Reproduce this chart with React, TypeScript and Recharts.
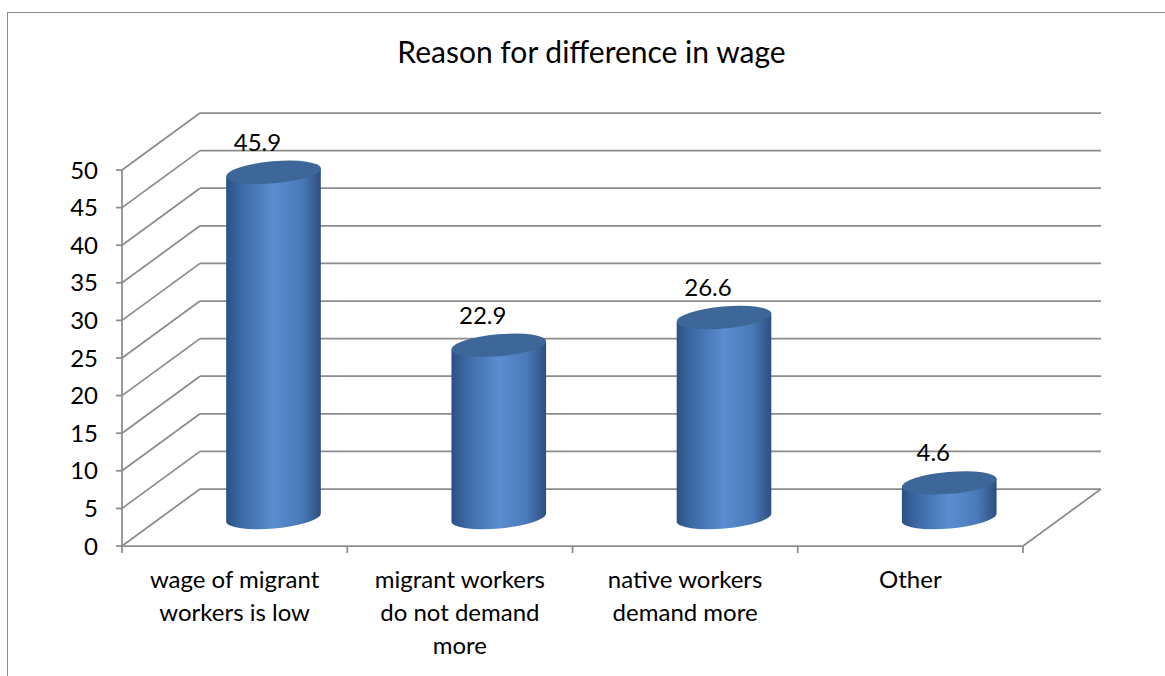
import { BarChart, Bar, XAxis, YAxis, CartesianGrid, LabelList } from 'recharts';

const title = 'Reason for difference in wage';
const categories = [
  'wage of migrant workers is low',
  'migrant workers do not demand more',
  'native workers demand more',
  'Other',
];
const values = [45.9, 22.9, 26.6, 4.6];
const yTicks = [0, 5, 10, 15, 20, 25, 30, 35, 40, 45, 50];

const data = categories.map((name, i) => ({ name, value: values[i] }));

// depth of the 3d box (back wall offset from the front plane)
const DX = 78;
const DY = -57;
const GRID = '#8c8c8c';
const FONT = 'Lato, "Open Sans", sans-serif';

// greedy word wrap by character count, like the narrow category slots in the original
const wrapLabel = (s: string, max = 15) => {
  const lines: string[] = [];
  let cur = '';
  s.split(' ').forEach((w) => {
    const next = cur ? `${cur} ${w}` : w;
    if (next.length > max && cur) {
      lines.push(cur);
      cur = w;
    } else {
      cur = next;
    }
  });
  if (cur) lines.push(cur);
  return lines;
};

const renderGridLine = (props: any) => {
  const { x1, x2, y1, index, horizontalPoints } = props;
  const bottom = Math.max(...(horizontalPoints && horizontalPoints.length ? horizontalPoints : [y1]));
  const isFloor = Math.abs(y1 - bottom) < 0.5;
  const n = categories.length;
  const step = (x2 - x1) / n;
  return (
    <g key={`grid-${index}`}>
      <line x1={x1} y1={y1} x2={x1 + DX} y2={y1 + DY} stroke={GRID} strokeWidth={1.75} />
      <line x1={x1 + DX} y1={y1 + DY} x2={x2 + DX} y2={y1 + DY} stroke={GRID} strokeWidth={1.75} />
      {isFloor && (
        <g>
          <line x1={x2} y1={y1} x2={x2 + DX} y2={y1 + DY} stroke={GRID} strokeWidth={1.75} />
          <line x1={x1} y1={y1} x2={x2} y2={y1} stroke={GRID} strokeWidth={1.75} />
          {Array.from({ length: n + 1 }, (_, i) => (
            <line
              key={`t-${i}`}
              x1={x1 + i * step}
              y1={y1}
              x2={x1 + i * step}
              y2={y1 + 7}
              stroke={GRID}
              strokeWidth={1.75}
            />
          ))}
        </g>
      )}
    </g>
  );
};

const Cylinder = (props: any) => {
  const { x, y, width, height, index } = props;
  if (width == null || height == null) return null;
  const rx = width / 2;
  const ry = 11;
  const rot = -5;
  const t = (rot * Math.PI) / 180;
  const cx = x + width / 2 + DX / 2;
  const topY = y + DY / 2;
  const botY = y + height + DY / 2;
  const ex = rx * Math.cos(t);
  const ey = rx * Math.sin(t);
  const id = `cyl-${index}`;
  const body = [
    `M ${cx - ex} ${topY - ey}`,
    `L ${cx - ex} ${botY - ey}`,
    `A ${rx} ${ry} ${rot} 0 0 ${cx + ex} ${botY + ey}`,
    `L ${cx + ex} ${topY + ey}`,
    'Z',
  ].join(' ');
  return (
    <g>
      <defs>
        <linearGradient id={id} x1="0" y1="0" x2="1" y2="0">
          <stop offset="0%" stopColor="#2b5185" />
          <stop offset="15%" stopColor="#3c68a3" />
          <stop offset="50%" stopColor="#5a8dd1" />
          <stop offset="80%" stopColor="#4a79b8" />
          <stop offset="100%" stopColor="#2c4f80" />
        </linearGradient>
      </defs>
      <path d={body} fill={`url(#${id})`} />
      <ellipse
        cx={cx}
        cy={topY}
        rx={rx}
        ry={ry}
        transform={`rotate(${rot} ${cx} ${topY})`}
        fill="#3e6799"
      />
    </g>
  );
};

const renderValueLabel = (props: any) => {
  const { x, y, width, value } = props;
  const lx = Number(x) + Number(width) / 2 + 23;
  const ly = Number(y) + DY / 2 - 31;
  return (
    <text
      x={lx}
      y={ly}
      textAnchor="middle"
      dominantBaseline="central"
      fill="#000"
      style={{ fontSize: 24, fontFamily: FONT }}
    >
      {value}
    </text>
  );
};

const CategoryTick = ({ x, y, payload }: any) => {
  const lines = wrapLabel(String(payload.value));
  return (
    <text x={x} y={y} textAnchor="middle" fill="#000" style={{ fontSize: 24, fontFamily: FONT }}>
      {lines.map((l, i) => (
        <tspan key={i} x={x} y={y + 42 + i * 33}>
          {l}
        </tspan>
      ))}
    </text>
  );
};

export default function App() {
  return (
    <div
      style={{
        position: 'absolute',
        left: 0,
        top: 0,
        width: 1165,
        height: 676,
        overflow: 'hidden',
        background: '#fff',
        fontFamily: FONT,
      }}
    >
      <div
        style={{
          position: 'absolute',
          left: 7,
          top: 12,
          width: 2000,
          height: 2000,
          border: '1px solid #8a8a8a',
        }}
      />
      <div
        style={{
          position: 'absolute',
          left: 0,
          top: 33,
          width: 1183,
          textAlign: 'center',
          fontSize: 30,
          lineHeight: '36px',
          color: '#000',
        }}
      >
        {title}
      </div>
      <div style={{ position: 'absolute', left: 0, top: 0 }}>
        <BarChart
          width={1165}
          height={676}
          data={data}
          margin={{ top: 170, right: 142, bottom: 30, left: 62 }}
        >
          <CartesianGrid vertical={false} horizontal={renderGridLine} />
          <XAxis
            dataKey="name"
            axisLine={false}
            tickLine={false}
            tickSize={0}
            tickMargin={0}
            height={100}
            interval={0}
            tick={<CategoryTick />}
          />
          <YAxis
            domain={[0, 50]}
            ticks={yTicks}
            width={60}
            interval={0}
            axisLine={{ stroke: GRID, strokeWidth: 1.75 }}
            tickLine={{ stroke: GRID, strokeWidth: 1.75 }}
            tickSize={6}
            tickMargin={18}
            tick={{ fill: '#000', fontSize: 24, fontFamily: FONT }}
          />
          <Bar dataKey="value" barSize={95} shape={<Cylinder />} isAnimationActive={false}>
            <LabelList dataKey="value" content={renderValueLabel} />
          </Bar>
        </BarChart>
      </div>
    </div>
  );
}
